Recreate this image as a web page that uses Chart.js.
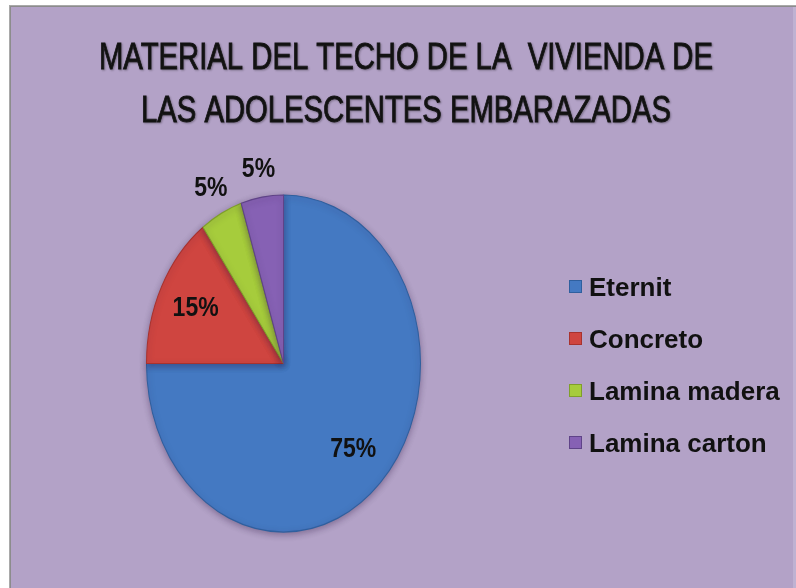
<!DOCTYPE html>
<html>
<head>
<meta charset="utf-8">
<script src="https://cdn.jsdelivr.net/npm/chart.js@4/dist/chart.umd.min.js"></script>
<style>
  html, body { margin: 0; padding: 0; background: #ffffff; }
  #wrap { width: 796px; height: 588px; position: relative; }
  canvas { display: block; }
</style>
</head>
<body>
<div id="wrap"><canvas id="c" width="796" height="588"></canvas></div>
<script>
const titleLines = ["MATERIAL DEL TECHO DE LA  VIVIENDA DE", "LAS ADOLESCENTES EMBARAZADAS"];
const categories = ["Eternit", "Concreto", "Lamina madera", "Lamina carton"];
const percentages = [75, 15, 5, 5];
const sliceColors = ["#4479c2", "#cf4540", "#a6cc3c", "#8661b4"];
const edgeColors = ["#2f5f9e", "#a8322e", "#7f9f2a", "#5f4388"];

const Y_STRETCH = 1.23;
const BG = "#b3a2c7";

const framePlugin = {
  id: "frame",
  beforeDraw(chart) {
    const ctx = chart.ctx;
    ctx.save();
    ctx.fillStyle = "#ffffff";
    ctx.fillRect(0, 0, chart.width, chart.height);
    ctx.fillStyle = "#a9a9a9";
    ctx.fillRect(9, 5, chart.width - 9, chart.height - 5);
    ctx.fillStyle = "#8c8c8c";
    ctx.fillRect(10, 6, chart.width - 10, chart.height - 6);
    ctx.fillStyle = BG;
    ctx.fillRect(11, 7, chart.width - 11, chart.height - 7);
    ctx.fillStyle = "#bfb2d2";
    ctx.fillRect(793, 7, 3, chart.height - 7);
    ctx.restore();
  }
};

const stretchPlugin = {
  id: "stretch",
  beforeDatasetsDraw(chart) {
    const arc = chart.getDatasetMeta(0).data[0];
    const ctx = chart.ctx;
    ctx.save();
    ctx.translate(arc.x, arc.y);
    ctx.scale(1, Y_STRETCH);
    ctx.translate(-arc.x, -arc.y);
    ctx.shadowColor = "rgba(40,20,60,0.35)";
    ctx.shadowBlur = 6;
    ctx.shadowOffsetY = 2;
  },
  afterDatasetsDraw(chart) {
    chart.ctx.restore();
  }
};

const textPlugin = {
  id: "texts",
  afterDraw(chart) {
    const ctx = chart.ctx;
    ctx.save();
    // title
    ctx.fillStyle = "#141414";
    ctx.textAlign = "center";
    ctx.textBaseline = "alphabetic";
    ctx.font = "37px 'Liberation Sans Narrow', 'Liberation Sans', sans-serif";
    ctx.shadowColor = "rgba(0,0,0,0.25)";
    ctx.shadowBlur = 2;
    ctx.shadowOffsetX = 1;
    ctx.shadowOffsetY = 1;
    const w0 = ctx.measureText(titleLines[0]).width;
    const sx = 614 / w0;
    const baselines = [69, 122];
    titleLines.forEach((t, i) => {
      ctx.save();
      ctx.translate(406, baselines[i]);
      ctx.scale(sx, 1);
      ctx.fillText(t, 0, 0);
      ctx.strokeStyle = "#141414";
      ctx.lineWidth = 0.9;
      ctx.strokeText(t, 0, 0);
      ctx.restore();
    });
    ctx.shadowColor = "transparent";
    ctx.shadowBlur = 0;
    ctx.shadowOffsetX = 0;
    ctx.shadowOffsetY = 0;

    // data labels
    const meta = chart.getDatasetMeta(0);
    ctx.font = "bold 23px 'Liberation Sans', Arial, sans-serif";
    ctx.textAlign = "center";
    ctx.textBaseline = "middle";
    ctx.fillStyle = "#111111";
    meta.data.forEach((arc, i) => {
      const v = percentages[i];
      const mid = (arc.startAngle + arc.endAngle) / 2;
      const r = v >= 10 ? arc.outerRadius * 0.72 : arc.outerRadius + 23;
      const px = arc.x + Math.cos(mid) * r;
      const py = arc.y + Math.sin(mid) * r * Y_STRETCH;
      ctx.save();
      ctx.translate(px, py);
      ctx.scale(1, 1.2);
      ctx.fillText(v + "%", 0, 0);
      ctx.restore();
    });

    // legend
    ctx.textAlign = "left";
    ctx.textBaseline = "alphabetic";
    ctx.font = "bold 26px 'Liberation Sans', Arial, sans-serif";
    categories.forEach((name, i) => {
      const base = 296 + i * 52;
      ctx.fillStyle = sliceColors[i];
      ctx.fillRect(569, base - 16, 13, 13);
      ctx.strokeStyle = edgeColors[i];
      ctx.lineWidth = 1;
      ctx.strokeRect(569.5, base - 15.5, 12, 12);
      ctx.fillStyle = "#111111";
      ctx.fillText(name, 589, base);
    });
    ctx.restore();
  }
};

new Chart(document.getElementById("c"), {
  type: "pie",
  data: {
    labels: categories,
    datasets: [{
      data: percentages,
      backgroundColor: sliceColors,
      borderColor: edgeColors,
      borderWidth: 1,
      hoverOffset: 0
    }]
  },
  options: {
    responsive: false,
    animation: false,
    devicePixelRatio: 1,
    radius: 137,
    layout: { padding: { left: 146.5, right: 375.5, top: 226.5, bottom: 87.5 } },
    plugins: {
      legend: { display: false },
      title: { display: false },
      tooltip: { enabled: false }
    }
  },
  plugins: [framePlugin, stretchPlugin, textPlugin]
});
</script>
</body>
</html>
